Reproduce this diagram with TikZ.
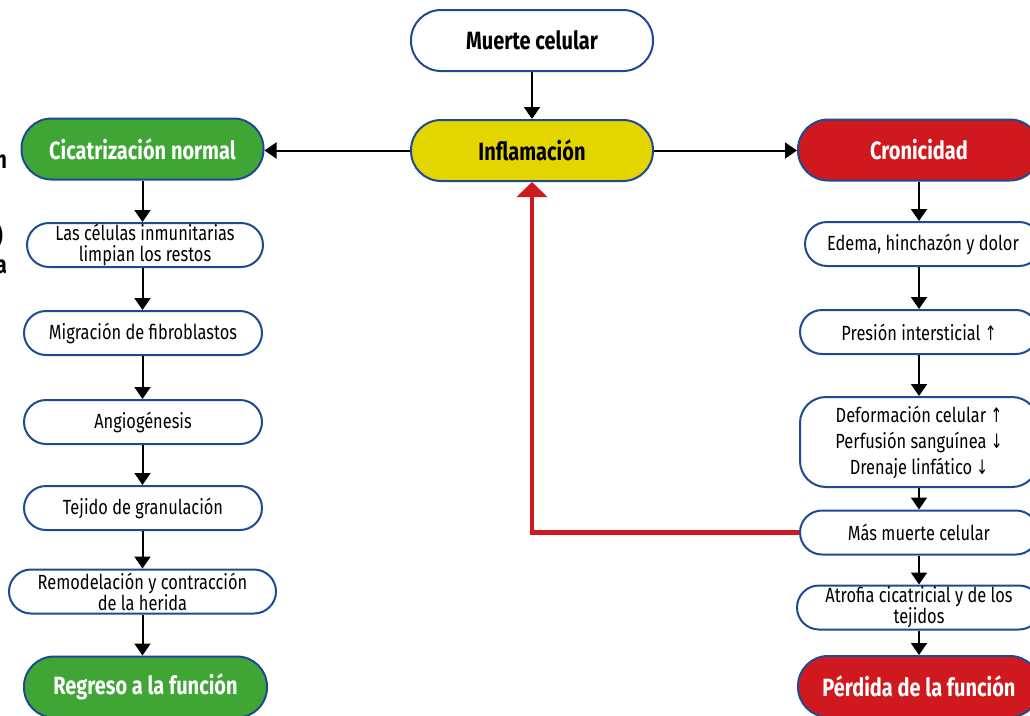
\documentclass[tikz,border=0pt]{standalone}
\usepackage{fontspec}
\setmainfont{Fira Sans}[FakeStretch=0.8]
\newfontfamily\arrfont{DejaVu Sans}[FakeStretch=0.7]
\usetikzlibrary{arrows.meta}
\definecolor{bcol}{HTML}{1E4A94}
\definecolor{gcol}{HTML}{3FA535}
\definecolor{ycol}{HTML}{E2D500}
\definecolor{rcol}{HTML}{D0191F}
\tikzset{
  bigbox/.style={draw=bcol, line width=2pt, minimum width=242pt, minimum height=61pt,
    rounded corners=30pt, inner sep=0pt, font=\bfseries\fontsize{25}{28}\selectfont},
  smallbox/.style={draw=bcol, line width=2pt, fill=white, minimum width=238pt, minimum height=44pt,
    rounded corners=22pt, inner sep=0pt, align=center, font=\fontsize{20.5}{22}\selectfont},
  arr/.style={draw=black, line width=2pt, -{Triangle[width=16pt,length=12pt]}},
  redarr/.style={draw=rcol, line width=4.5pt, -{Triangle[width=30pt,length=15pt]}},
  frag/.style={inner sep=0pt, font=\bfseries\fontsize{25}{28}\selectfont},
}
\newcommand{\up}{{\arrfont\fontsize{20}{20}\selectfont\char"2191}}
\newcommand{\dn}{{\arrfont\fontsize{20}{20}\selectfont\char"2193}}
\begin{document}
\begin{tikzpicture}[x=1pt,y=-1pt]
\useasboundingbox (0,0) rectangle (1030,715);
% center column
\node[bigbox, fill=white] (muerte) at (532,40.5) {Muerte celular};
\node[bigbox, fill=ycol] (infl) at (532,150.5) {Inflamación};
% left column
\node[bigbox, fill=gcol, text=white] (cic) at (142.5,149) {Cicatrización normal};
\node[smallbox, minimum width=236pt] (l1) at (145,245) {Las células inmunitarias\\[-1pt]limpian los restos};
\node[smallbox] (l2) at (143,333) {Migración de fibroblastos};
\node[smallbox] (l3) at (143,422) {Angiogénesis};
\node[smallbox] (l4) at (143,508) {Tejido de granulación};
\node[smallbox, minimum width=267pt] (l5) at (142.5,591.5) {Remodelación y contracción\\[-1pt]de la herida};
\node[bigbox, fill=gcol, text=white, minimum width=243pt] (regreso) at (145.5,687) {Regreso a la función};
% right column
\node[bigbox, fill=rcol, text=white] (cron) at (919,150) {Cronicidad};
\node[smallbox, minimum width=236pt] (r1) at (923,244) {Edema, hinchazón y dolor};
\node[smallbox, minimum width=238pt] (r2) at (919,332) {Presión intersticial \up};
\node[smallbox, minimum width=238pt, minimum height=90pt, rounded corners=26pt] (r3) at (919,442)
  {Deformación celular \up\\[4pt]Perfusión sanguínea \dn\\[4pt]Drenaje linfático \dn};
\node[smallbox, minimum width=238pt] (r4) at (919,532.5) {Más muerte celular};
\node[smallbox, minimum width=244pt] (r5) at (919,607.5) {Atrofia cicatricial y de los\\[-1pt]tejidos};
\node[bigbox, fill=rcol, text=white] (perdida) at (919,686.5) {Pérdida de la función};
% cut-off fragments at left edge (as in the reference)
\node[frag, anchor=base east] (f1) at (7,168) {n};
\node[frag, anchor=base east] (f2) at (3,244) {)};
\node[frag, anchor=base east] (f3) at (7,273) {a};
% connectors
\draw[arr] (muerte.south) -- (infl.north);
\draw[arr] (infl.west) -- (cic.east |- infl.west);
\draw[arr] (infl.east) -- (cron.west |- infl.east);
\draw[arr] (cic.south) -- (cic.south |- l1.north);
\draw[arr] (cic.south |- l1.south) -- (cic.south |- l2.north);
\draw[arr] (cic.south |- l2.south) -- (cic.south |- l3.north);
\draw[arr] (cic.south |- l3.south) -- (cic.south |- l4.north);
\draw[arr] (cic.south |- l4.south) -- (cic.south |- l5.north);
\draw[arr] (cic.south |- l5.south) -- (cic.south |- regreso.north);
\draw[arr] (cron.south) -- (cron.south |- r1.north);
\draw[arr] (cron.south |- r1.south) -- (cron.south |- r2.north);
\draw[arr] (cron.south |- r2.south) -- (cron.south |- r3.north);
\draw[arr] (cron.south |- r3.south) -- (cron.south |- r4.north);
\draw[arr] (cron.south |- r4.south) -- (cron.south |- r5.north);
\draw[arr] (cron.south |- r5.south) -- (cron.south |- perdida.north);
\draw[redarr] (r4.west) -| (infl.south);
\end{tikzpicture}
\end{document}
